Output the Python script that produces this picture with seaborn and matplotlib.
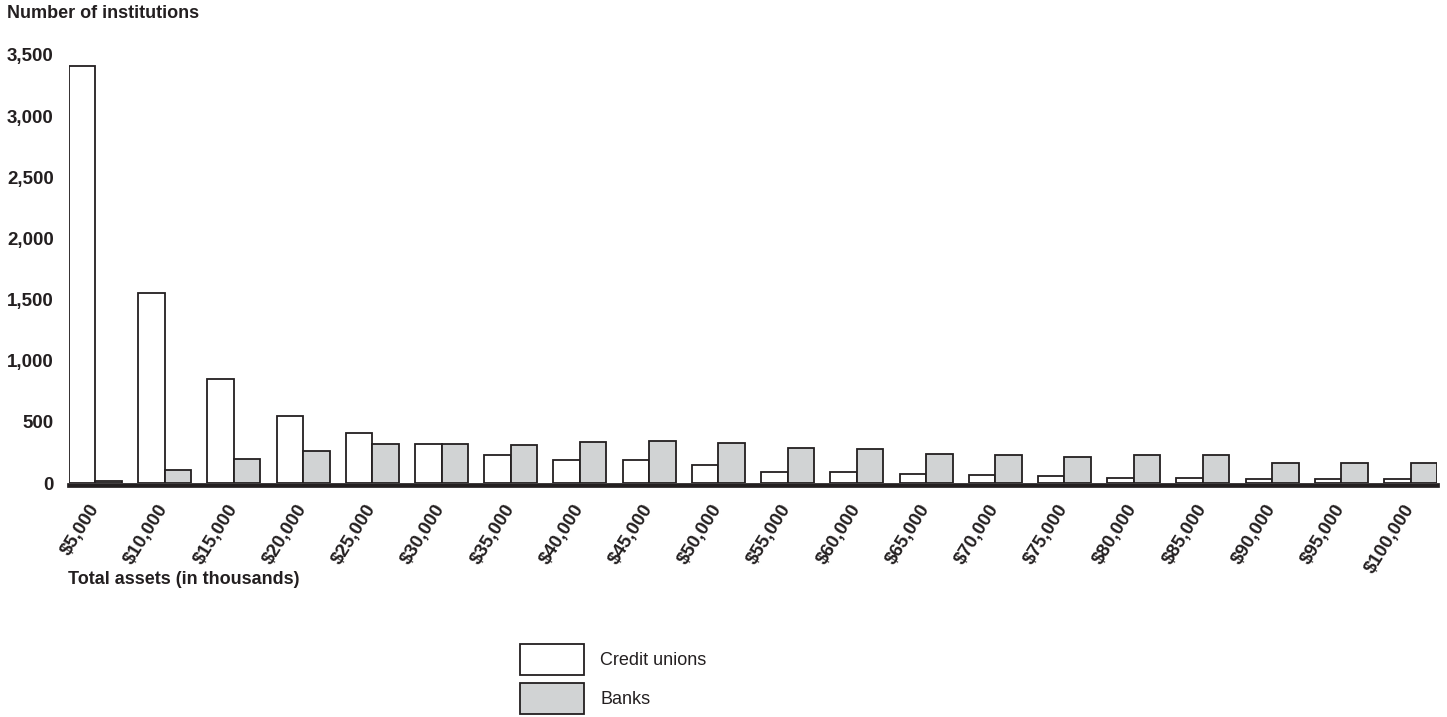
import pandas as pd
import numpy as np
import matplotlib.pyplot as plt
import seaborn as sns

sns.set_style("white")
plt.rcParams['font.family'] = ['Liberation Sans', 'DejaVu Sans']

# asset brackets (in thousands)
brackets = ["$5,000", "$10,000", "$15,000", "$20,000", "$25,000", "$30,000", "$35,000",
            "$40,000", "$45,000", "$50,000", "$55,000", "$60,000", "$65,000", "$70,000",
            "$75,000", "$80,000", "$85,000", "$90,000", "$95,000", "$100,000"]

credit_unions = [3410, 1555, 850, 545, 405, 315, 230, 185, 185, 150,
                 88, 92, 74, 63, 55, 44, 38, 35, 30, 35]
banks = [20, 110, 200, 265, 315, 320, 310, 335, 340, 330,
         285, 280, 240, 225, 215, 225, 225, 165, 165, 160]

series_names = ["Credit unions", "Banks"]
y_ticks = [0, 500, 1000, 1500, 2000, 2500, 3000, 3500]

df = pd.DataFrame({
    "bracket": brackets * 2,
    "count": credit_unions + banks,
    "type": [series_names[0]] * len(brackets) + [series_names[1]] * len(brackets),
})

INK = "#231f20"
GREY = "#d1d3d4"
W = 0.765

fig = plt.figure(figsize=(14.47, 7.17), dpi=100)
ax = fig.add_axes([69 / 1447, 234 / 717, 1368 / 1447, 428 / 717])

sns.barplot(data=df, x="bracket", y="count", hue="type", order=brackets,
            hue_order=series_names, palette=["white", GREY], edgecolor=INK,
            linewidth=1.3, width=W, gap=0, legend=False, saturation=1, ax=ax)

# spines first: set_position resets the ticks
for side in ["top", "right", "left"]:
    ax.spines[side].set_visible(False)
ax.spines["bottom"].set_position(("outward", 1.7))
ax.spines["bottom"].set_color(INK)
ax.spines["bottom"].set_linewidth(3.4)
ax.grid(False)

ax.set_xlim(-W / 2, len(brackets) - 1 + W / 2)
ax.set_ylim(0, 3500)
ax.set_yticks(y_ticks)
ax.set_yticklabels([f"{v:,}" for v in y_ticks], fontsize=13.5, fontweight="bold", color=INK)
ax.tick_params(axis="y", length=0, pad=11)
ax.tick_params(axis="x", length=0, pad=14.5)
ax.set_xticks(range(len(brackets)))
ax.set_xticklabels(brackets, rotation=58, ha="right", va="center", rotation_mode="anchor",
                   fontsize=13.5, fontweight="bold", color=INK)
ax.set_xlabel("")
ax.set_ylabel("")

fig.text(7 / 1447, 1 - 14 / 717, "Number of institutions", fontsize=13,
         fontweight="bold", color=INK, ha="left", va="center")
fig.text(68 / 1447, 1 - 579 / 717, "Total assets (in thousands)", fontsize=13,
         fontweight="bold", color=INK, ha="left", va="center")

handles = [plt.Rectangle((0, 0), 1, 1, facecolor=c, edgecolor=INK, linewidth=1.3)
           for c in ["white", GREY]]
fig.legend(handles, series_names, loc="upper left",
           bbox_to_anchor=(520 / 1447, 1 - 644 / 717), frameon=False,
           fontsize=13, handlelength=3.55, handleheight=2.25, labelspacing=0.45,
           handletextpad=0.9, borderpad=0, borderaxespad=0, labelcolor=INK)

fig.savefig("out.png", dpi=100, facecolor="white")
